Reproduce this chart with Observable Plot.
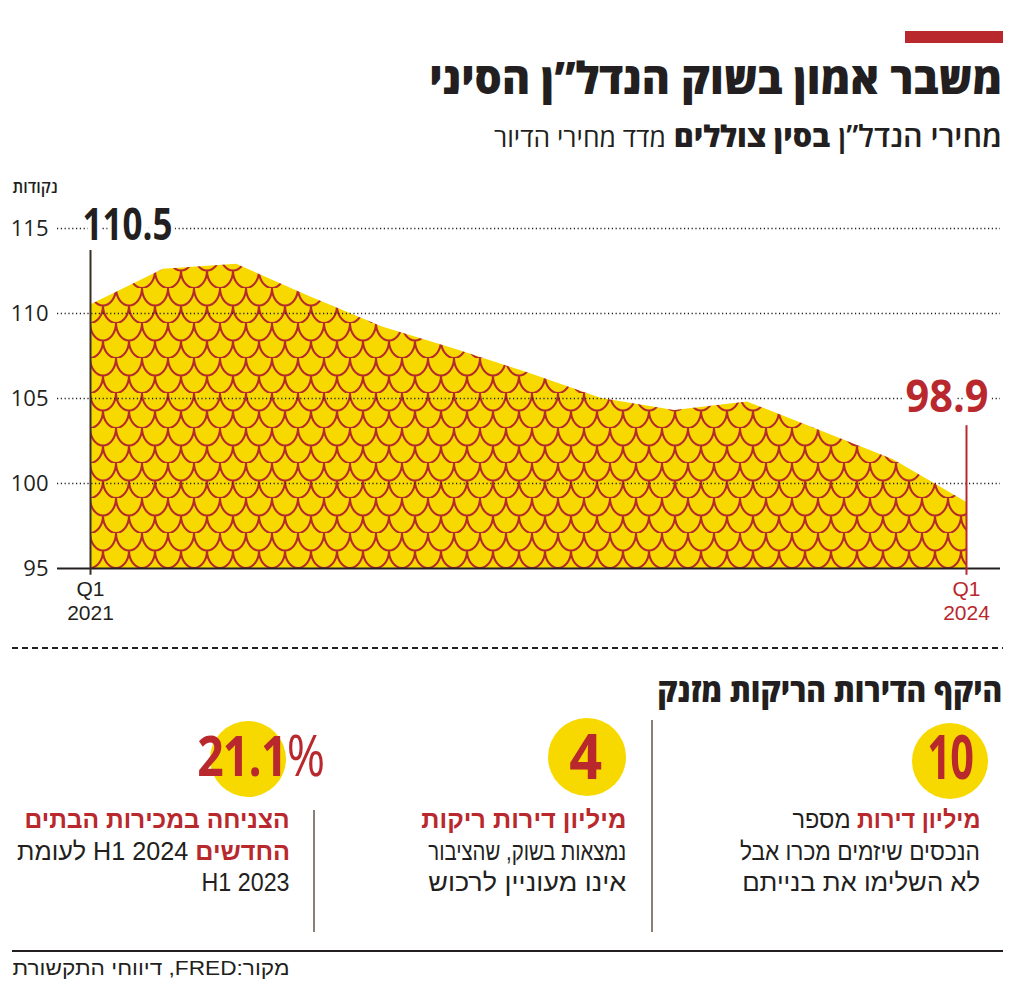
<!DOCTYPE html>
<html lang="he">
<head>
<meta charset="utf-8">
<script src="https://cdn.jsdelivr.net/npm/d3@7"></script>
<script src="https://cdn.jsdelivr.net/npm/@observablehq/plot@0.6"></script>
<style>
  html, body { margin: 0; padding: 0; background: #fff; }
  body { width: 1024px; height: 989px; position: relative; overflow: hidden; font-family: "Open Sans", "Liberation Sans", "DejaVu Sans", sans-serif; color: #231f20; }
  .abs { position: absolute; white-space: nowrap; }
  .rtl { direction: rtl; text-align: right; transform-origin: right center; }
  .red { color: #b8282d; }
  .circle { position: absolute; border-radius: 50%; background: #f7d900; }
  .body { font-family: "Liberation Sans", "Open Sans", sans-serif; }
  #chart { position: absolute; left: 0; top: 160px; }
</style>
</head>
<body>
<div class="abs" style="left:905px;top:31px;width:98px;height:12px;background:#b8282d"></div>
<div class="abs rtl fit" data-w="573" style="right:22px;top:54px;font-size:44px;line-height:46px;font-weight:800">משבר אמון בשוק הנדל”ן הסיני</div>
<div class="abs rtl fit" data-w="508" style="right:22px;top:118px;font-size:30px;line-height:36px"><span style="font-weight:600">מחירי הנדל”ן</span> <span style="font-weight:800">בסין צוללים</span> <span style="font-weight:400;font-size:26px">מדד מחירי הדיור</span></div>
<div class="abs rtl fit" data-w="45" style="right:966px;top:175px;font-size:17px;line-height:24px;font-weight:600">נקודות</div>

<div id="chart"></div>

<div class="abs" style="left:12px;top:647px;width:991px;height:1.6px;background:repeating-linear-gradient(to right,#231f20 0 6px,transparent 6px 10px)"></div>
<div class="abs rtl fit" data-w="345" style="right:22px;top:670px;font-size:33px;line-height:40px;font-weight:800">היקף הדירות הריקות מזנק</div>

<div class="abs" style="left:651px;top:720px;width:2px;height:212px;background:#8a8078"></div>
<div class="abs" style="left:313px;top:810px;width:2px;height:122px;background:#8a8078"></div>

<div class="circle" style="left:912px;top:723px;width:76px;height:76px"></div>
<div class="circle" style="left:548px;top:718px;width:78px;height:78px"></div>
<div class="circle" style="left:210px;top:721px;width:76px;height:76px"></div>

<div id="stats"></div>

<div class="abs" style="left:12px;top:950px;width:991px;height:2px;background:#231f20"></div>
<div class="abs rtl fit body" data-w="277" style="right:734px;top:956px;font-size:20px;line-height:24px">מקור:FRED, דיווחי התקשורת</div>

<script>
// ---- data ----
const quarters = ["Q1 2021","Q2 2021","Q3 2021","Q4 2021","Q1 2022","Q2 2022","Q3 2022","Q4 2022","Q1 2023","Q2 2023","Q3 2023","Q4 2023","Q1 2024"];
const priceIndex = [110.5, 112.6, 112.9, 111.0, 109.2, 107.9, 106.5, 105.0, 104.3, 104.8, 103.1, 101.4, 98.9];
const yTicks = [95, 100, 105, 110, 115];
const gridValues = [100, 105, 110, 115];
const xTickQuarters = ["Q1 2021", "Q1 2024"];
const xTickTop = ["Q1", "Q1"];
const xTickBottom = ["2021", "2024"];
const statNumbers = ["10", "4", "21.1"];
const statUnits = ["", "", "%"];

const YELLOW = "#f7d900", RED = "#b8282d", DARK = "#231f20";

const data = quarters.map((q, i) => ({quarter: q, i, value: priceIndex[i]}));
const first = data[0], last = data[data.length - 1];
const ticksX = xTickQuarters.map((q, k) => ({i: quarters.indexOf(q), top: xTickTop[k], bottom: xTickBottom[k], color: k === 0 ? DARK : RED}));

const plot = Plot.plot({
  width: 1024,
  height: 480,
  marginTop: 68,
  marginBottom: 72,
  marginLeft: 57,
  marginRight: 24,
  style: {fontFamily: "'Open Sans', 'Liberation Sans', sans-serif", color: DARK, background: "transparent", overflow: "visible"},
  x: {domain: [0, quarters.length - 1], range: [90, 966], axis: null},
  y: {domain: [95, 115]},
  marks: [
    Plot.areaY(data, {x: "i", y1: 95, y2: "value", fill: "url(#scales)"}),
    Plot.ruleY(gridValues, {stroke: DARK, strokeWidth: 1.3, strokeDasharray: "1.2,2.6"}),
    Plot.ruleY([95], {stroke: DARK, strokeWidth: 2}),
    Plot.ruleX([first], {x: "i", y1: 94.6, y2: 113.7, stroke: "#3a2f25", strokeWidth: 2}),
    Plot.ruleX([last], {x: "i", y1: 94.6, y2: 103.4, stroke: RED, strokeWidth: 2}),
    Plot.axisY({ticks: yTicks, tickSize: 0, tickPadding: 9, fontSize: 22, label: null, tickFormat: d => String(d)}),
    Plot.text([first], {x: "i", y: 115, text: d => d.value.toFixed(1), textAnchor: "start", dx: -8, dy: -3, fontSize: 44, fontWeight: "bold", fill: DARK, stroke: "white", strokeWidth: 10}),
    Plot.text([last], {x: "i", y: 105, text: d => d.value.toFixed(1), textAnchor: "end", dx: 22, dy: -1, fontSize: 44, fontWeight: "bold", fill: RED, stroke: "white", strokeWidth: 10}),
    Plot.text(ticksX, {x: "i", y: 95, text: "top", dy: 21, fontSize: 21, fontFamily: "'Liberation Sans', sans-serif", fill: "color"}),
    Plot.text(ticksX, {x: "i", y: 95, text: "bottom", dy: 45, fontSize: 21, fontFamily: "'Liberation Sans', sans-serif", fill: "color"})
  ]
});

// pattern defs (fish scales)
const svg = d3.select(plot);
const defs = svg.insert("defs", ":first-child");
const pat = defs.append("pattern").attr("id", "scales").attr("patternUnits", "userSpaceOnUse")
  .attr("width", 26).attr("height", 35).attr("x", 12).attr("y", 23);
pat.append("rect").attr("width", 26).attr("height", 35).attr("fill", YELLOW);
pat.append("path")
  .attr("d", "M0,0 A13,17.5 0 0 0 26,0 M-13,17.5 A13,17.5 0 0 0 13,17.5 M13,17.5 A13,17.5 0 0 0 39,17.5 M0,35 A13,17.5 0 0 0 26,35")
  .attr("fill", "none").attr("stroke", "#b52b2c").attr("stroke-width", 2.1);

document.getElementById("chart").appendChild(plot);

// fit big value labels
svg.selectAll("text").each(function() {
  const t = this.textContent;
  if (t === first.value.toFixed(1)) { this.setAttribute("textLength", 90); this.setAttribute("lengthAdjust", "spacingAndGlyphs"); }
  if (t === last.value.toFixed(1)) { this.setAttribute("textLength", 83); this.setAttribute("lengthAdjust", "spacingAndGlyphs"); }
});

// ---- stats ----
const stats = document.getElementById("stats");
const statBoxes = [
  {num: 0, cx: 950, cy: 758, w: 46, size: 60, right: 980, lines: [
    [["מיליון דירות", true], [" מספר", false]],
    [["הנכסים שיזמים מכרו אבל", false]],
    [["לא השלימו את בנייתם", false]]], widths: [188, 240, 238]},
  {num: 1, cx: 585, cy: 757, w: 32, size: 62, right: 626, lines: [
    [["מיליון דירות ריקות", true]],
    [["נמצאות בשוק, שהציבור", false]],
    [["אינו מעוניין לרכוש", false]]], widths: [205, 198, 198]},
  {num: 2, cx: 261, cy: 756, w: 127, size: 56, right: 290, lines: [
    [["הצניחה במכירות הבתים", true]],
    [["החדשים", true], [" H1 2024 לעומת", false]],
    [["H1 2023", false]]], widths: [265, 273, 88]}
];
const lineCenters = [820, 852, 883];
statBoxes.forEach(b => {
  const n = document.createElement("div");
  n.className = "abs red fitc";
  n.style.cssText = `left:${b.cx}px;top:${b.cy - 0.53 * b.size}px;font-size:${b.size}px;line-height:${b.size}px;font-weight:700;letter-spacing:-1px`;
  n.dataset.w = b.w;
  n.innerHTML = statNumbers[b.num] + (statUnits[b.num] ? `<span style="font-weight:400">${statUnits[b.num]}</span>` : "");
  stats.appendChild(n);
  b.lines.forEach((parts, k) => {
    const d = document.createElement("div");
    d.className = "abs rtl fit body";
    d.dataset.w = b.widths[k];
    d.style.cssText = `right:${1024 - b.right}px;top:${lineCenters[k] - 15}px;font-size:25px;line-height:29px`;
    d.innerHTML = parts.map(([t, hl]) => hl ? `<span style="color:${RED};font-weight:700">${t}</span>` : `<span>${t}</span>`).join("");
    stats.appendChild(d);
  });
});

function fitAll() {
  document.querySelectorAll(".fit").forEach(el => {
    el.style.transform = "none";
    const w = el.getBoundingClientRect().width;
    el.style.transform = `scaleX(${(+el.dataset.w) / w})`;
  });
  document.querySelectorAll(".fitc").forEach(el => {
    el.style.transform = "none";
    if (!el.dataset.cx) el.dataset.cx = parseFloat(el.style.left);
    el.style.left = el.dataset.cx + "px";
    const r = el.getBoundingClientRect();
    const s = (+el.dataset.w) / r.width;
    el.style.left = (el.dataset.cx - r.width / 2) + "px";
    el.style.transformOrigin = `${r.width / 2}px center`;
    el.style.transform = `scaleX(${s})`;
  });
}
fitAll();
if (document.fonts && document.fonts.ready) document.fonts.ready.then(fitAll);
</script>
</body>
</html>
